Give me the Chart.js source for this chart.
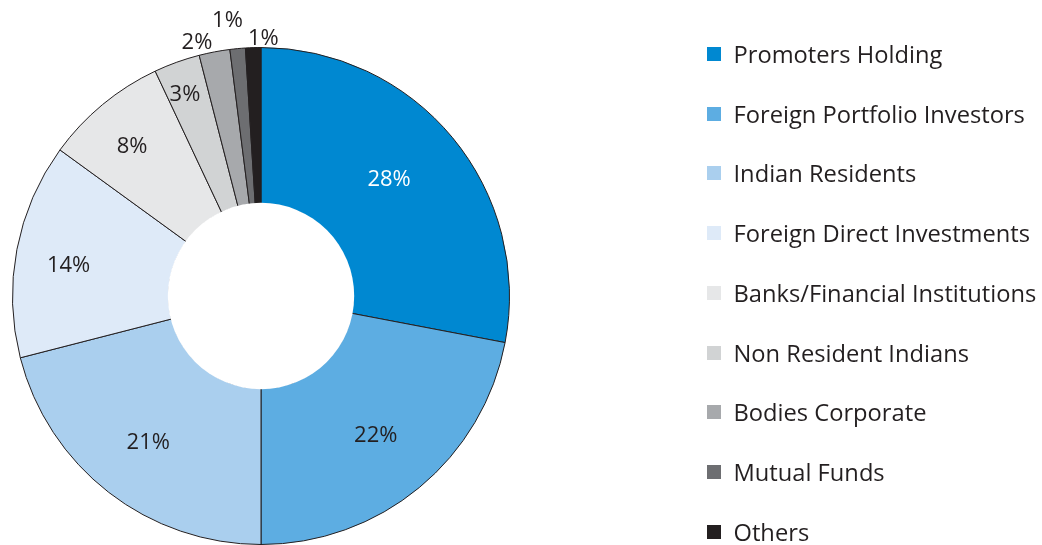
<!DOCTYPE html>
<html>
<head>
<meta charset="utf-8">
<script src="https://cdn.jsdelivr.net/npm/chart.js@4.4.1/dist/chart.umd.min.js"></script>
<style>
    body { margin: 0; background: #fff; }
    #wrap { position: relative; width: 1042px; height: 545px; overflow: hidden; }
    #legend { position: absolute; left: 707px; top: 24px; }
    .legend-row { display: flex; align-items: center; height: 59.75px; }
    .legend-box { width: 14px; height: 14px; margin-right: 12.5px; }
    .legend-text { font-family: "Open Sans", sans-serif; font-size: 23.7px; color: #231f20; white-space: nowrap; }
</style>
</head>
<body>
<div id="wrap">
    <canvas id="shareChart" width="1042" height="545"></canvas>
    <div id="legend"></div>
</div>
<script>
const categories = ['Promoters Holding', 'Foreign Portfolio Investors', 'Indian Residents', 'Foreign Direct Investments', 'Banks/Financial Institutions', 'Non Resident Indians', 'Bodies Corporate', 'Mutual Funds', 'Others'];
const shares = [28, 22, 21, 14, 8, 3, 2, 1, 1];
const colors = ['#0088d1', '#5dade2', '#aacfee', '#deeaf8', '#e6e7e8', '#d1d3d4', '#a7a9ac', '#6d6e71', '#231f20'];
const labelColors = ['#ffffff', '#231f20', '#231f20', '#231f20', '#231f20', '#231f20', '#231f20', '#231f20', '#231f20'];

// where each percent sits: [distance from centre, nudge from mid angle in degrees]
const labelPlace = [[174, -3], [180, 0], [184, 0], [195, -1.5], [198, -1], [217, -0.7], [263, -3.3], [279, -1.5], [259, 2.3]];

// white hole drawn over the inner border, then the percent labels
const sliceLabels = {
    id: 'sliceLabels',
    afterDatasetsDraw(chart) {
        const ctx = chart.ctx;
        const arcs = chart.getDatasetMeta(0).data;
        const first = arcs[0];
        ctx.save();
        ctx.fillStyle = '#ffffff';
        ctx.beginPath();
        ctx.arc(first.x, first.y, first.innerRadius + 1, 0, Math.PI * 2);
        ctx.fill();

        ctx.font = '22px "Open Sans", sans-serif';
        ctx.textAlign = 'center';
        ctx.textBaseline = 'alphabetic';
        arcs.forEach((arc, i) => {
            const mid = (arc.startAngle + arc.endAngle) / 2 + labelPlace[i][1] * Math.PI / 180;
            const r = labelPlace[i][0];
            const x = arc.x + r * Math.cos(mid);
            const y = arc.y + r * Math.sin(mid);
            ctx.fillStyle = labelColors[i];
            ctx.fillText(shares[i] + '%', x, y + 7.8);
        });
        ctx.restore();
    }
};

const ctx = document.getElementById('shareChart').getContext('2d');
new Chart(ctx, {
    type: 'doughnut',
    data: {
        labels: categories,
        datasets: [{
            data: shares,
            backgroundColor: colors,
            borderColor: '#231f20',
            borderWidth: 1
        }]
    },
    options: {
        responsive: false,
        animation: false,
        cutout: '37.1%',
        layout: { padding: { top: 47, right: 520 } },
        plugins: {
            legend: { display: false },
            tooltip: { enabled: false }
        }
    },
    plugins: [sliceLabels]
});

const legend = document.getElementById('legend');
categories.forEach((name, i) => {
    const row = document.createElement('div');
    row.className = 'legend-row';
    row.innerHTML = '<div class="legend-box" style="background:' + colors[i] + '"></div><span class="legend-text">' + name + '</span>';
    legend.appendChild(row);
});
</script>
</body>
</html>
